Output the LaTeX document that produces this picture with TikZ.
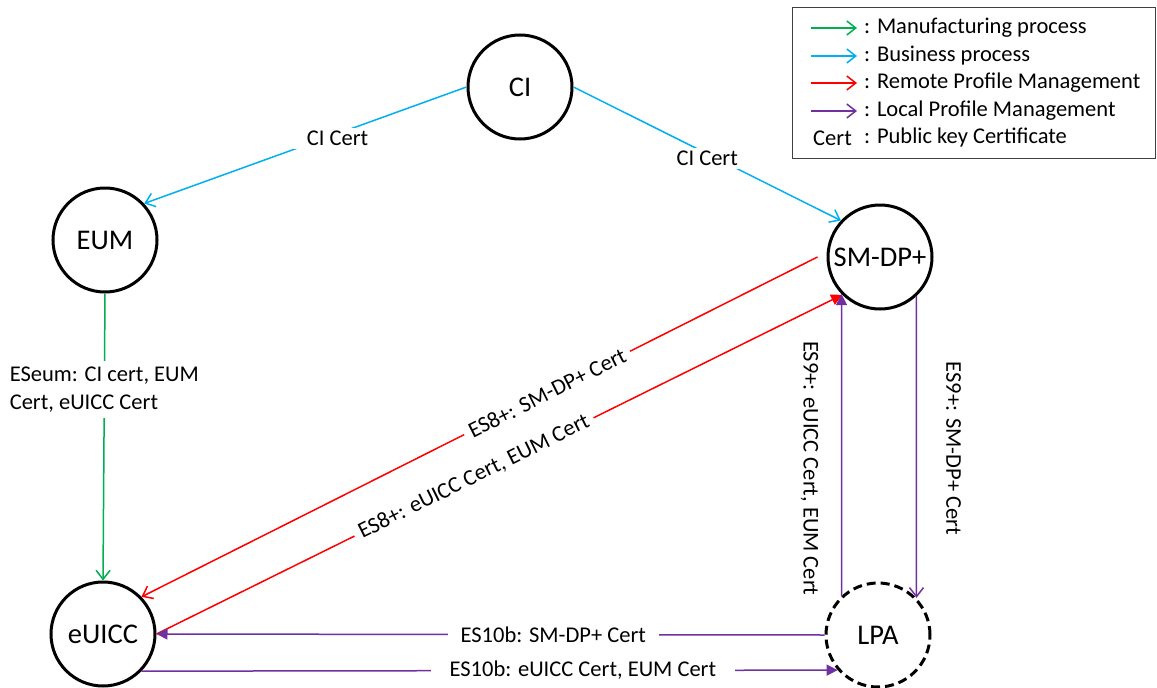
\documentclass[tikz,border=0pt]{standalone}
\usepackage{fontspec}
\setmainfont{Carlito}
\usetikzlibrary{arrows.meta}
\definecolor{cgreen}{RGB}{0,176,80}
\definecolor{cblue}{RGB}{0,176,240}
\definecolor{cred}{RGB}{255,0,0}
\definecolor{cpurple}{RGB}{112,48,160}
\begin{document}
\begin{tikzpicture}[x=1pt,y=-1pt,
  ent/.style={circle,draw=black,text=black,line width=3pt,minimum size=104pt,inner sep=0pt,font=\fontsize{28.5}{34}\selectfont},
  txt/.style={font=\fontsize{22.5}{28}\selectfont,text=black,inner sep=2pt},
  lbl/.style={txt,fill=white,inner ysep=3pt,inner xsep=6pt},
  conn/.style={line width=1.5pt},
  opentip/.style={conn,-{Straight Barb[length=9pt,width=14pt]}},
  filltip/.style={conn,-{Triangle[length=11pt,width=11pt]}},
  legarrow/.style={line width=1.5pt,-{Straight Barb[length=9pt,width=14pt]}}
]
\useasboundingbox (0,0) rectangle (1157,688);

% entities
\node[ent] (CI) at (520,87) {CI};
\node[ent] (EUM) at (105,240) {EUM};
\node[ent] (SM) at (880,257) {SM-DP+};
\node[ent] (EU) at (103,634) {eUICC};
\node[ent,dash pattern=on 9pt off 5pt] (LPA) at (878,635) {LPA};

% business process
\draw[opentip,cblue] (CI.west) -- node[lbl,pos=0.40,yshift=-5pt,inner xsep=20pt] (l1) {CI Cert} (EUM.43);
\draw[opentip,cblue] (CI.east) -- node[lbl,pos=0.5,yshift=-5pt,inner xsep=14pt] (l2) {CI Cert} (SM.137);

% manufacturing
\draw[opentip,cgreen] (EUM.south) -- node[lbl,pos=0.334,align=left,inner ysep=6pt] (l3) {ESeum: CI cert, EUM\\Cert, eUICC Cert} (EU.north);

% remote profile management
\draw[opentip,cred] ([xshift=-9pt]SM.west) -- node[lbl,sloped,pos=0.4] (l4) {ES8+: SM-DP+ Cert} (EU.44);
\draw[filltip,cred] (EU.east) -- node[lbl,sloped,pos=0.463] (l5) {ES8+: eUICC Cert, EUM Cert} (SM.225);

% local profile management
\draw[filltip,cpurple] (LPA.133) -- node[txt,pos=0.423,xshift=-32pt,rotate=-90] (l6) {ES9+: eUICC Cert, EUM Cert} (SM.224);
\draw[opentip,cpurple] (SM.313) -- node[txt,pos=0.505,xshift=37pt,rotate=-90] (l7) {ES9+: SM-DP+ Cert} (LPA.44);
\draw[filltip,cpurple] (LPA.west) -- node[lbl,pos=0.406,inner xsep=13pt] (l8) {ES10b: SM-DP+ Cert} (EU.east);
\draw[filltip,cpurple] (EU.316) -- node[lbl,pos=0.634,inner xsep=19pt] (l9) {ES10b: eUICC Cert, EUM Cert} (LPA.221);

% legend
\node[draw=black!75,line width=1pt,minimum width=363pt,minimum height=151pt,inner sep=0pt,anchor=north west] (legend) at (792,7) {};
\coordinate (g1a) at (811,28);  \coordinate (g1b) at (857,28);
\coordinate (g2a) at (811,56);  \coordinate (g2b) at (857,56);
\coordinate (g3a) at (811,83);  \coordinate (g3b) at (857,83);
\coordinate (g4a) at (811,111); \coordinate (g4b) at (857,111);
\draw[legarrow,cgreen] (g1a) -- (g1b);
\draw[legarrow,cblue] (g2a) -- (g2b);
\draw[legarrow,cred] (g3a) -- (g3b);
\draw[legarrow,cpurple] (g4a) -- (g4b);
\node[txt,anchor=west] (t1) at (862,28) {: Manufacturing process};
\node[txt,anchor=west] (t2) at (862,56) {: Business process};
\node[txt,anchor=west] (t3) at (862,83) {: Remote Profile Management};
\node[txt,anchor=west] (t4) at (862,111) {: Local Profile Management};
\node[txt,anchor=west] (t5c) at (811,138) {Cert};
\node[txt,anchor=west] (t5) at (862,138) {: Public key Certificate};
\end{tikzpicture}
\end{document}
